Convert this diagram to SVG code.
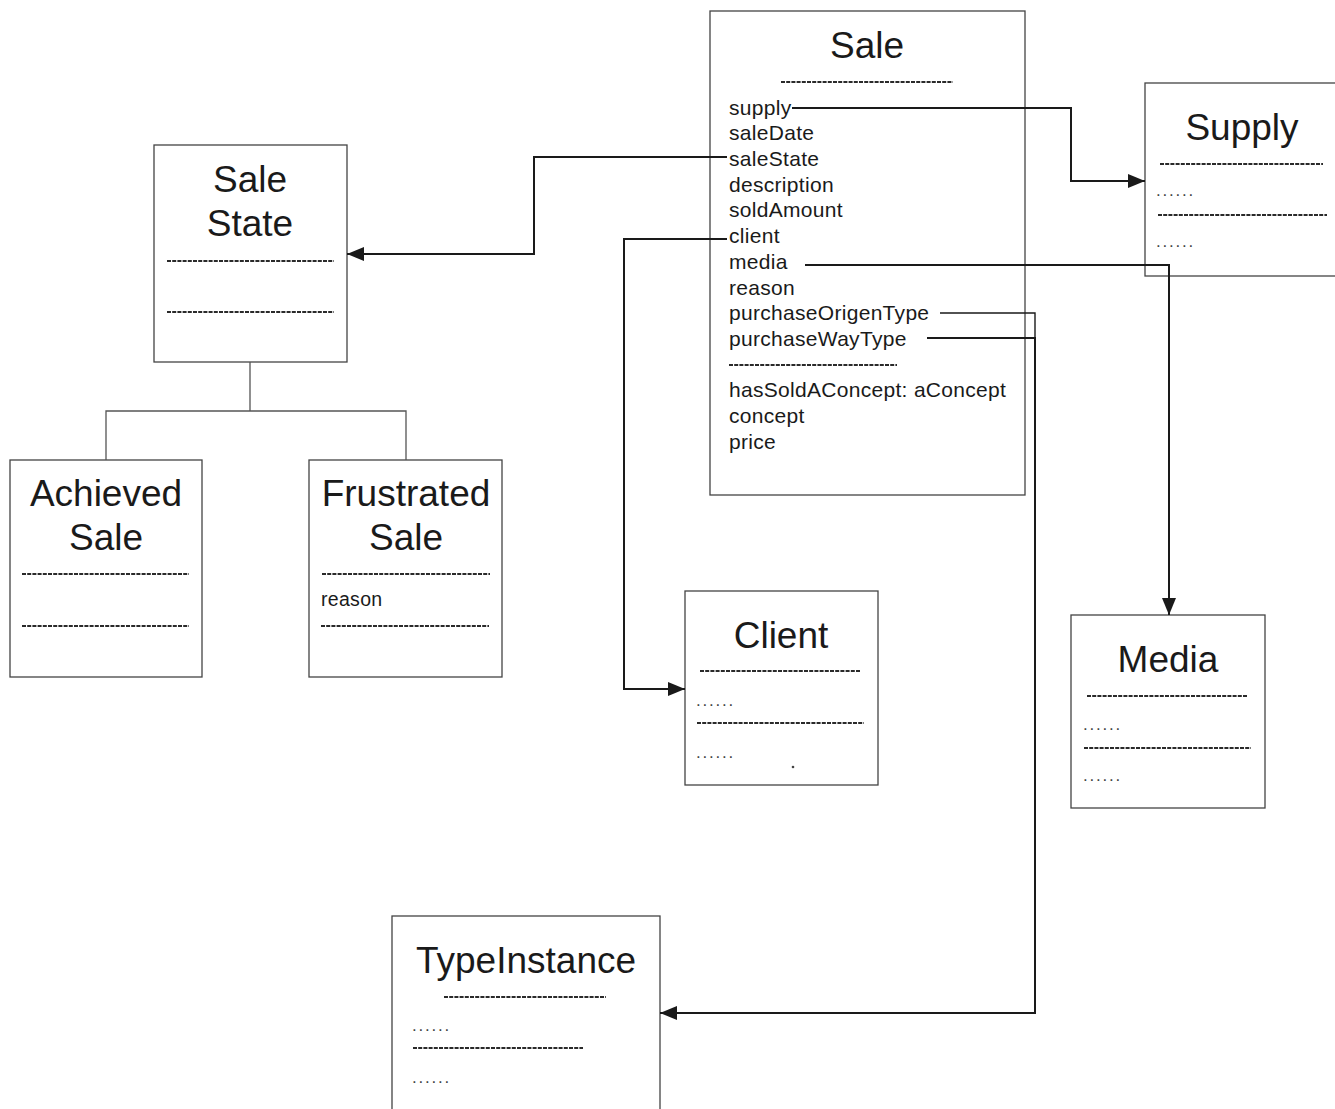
<svg xmlns="http://www.w3.org/2000/svg" width="1335" height="1109" viewBox="0 0 1335 1109">
  <style>
    .box { fill: #ffffff; stroke: #444; stroke-width: 1.3; }
    .title { font-family: "Liberation Sans", Arial, sans-serif; font-size: 37px; fill: #1a1a1a; text-anchor: middle; }
    .attr { font-family: "Liberation Sans", Arial, sans-serif; font-size: 21px; letter-spacing: 0.3px; fill: #1a1a1a; }
    .dots { font-family: "Liberation Sans", Arial, sans-serif; font-size: 17px; fill: #444; letter-spacing: 1.8px; }
    .sep { stroke: #2a2a2a; stroke-width: 1.8; stroke-dasharray: 4 1.2; fill: none; }
    .conn { stroke: #1a1a1a; stroke-width: 2; fill: none; }
    .tree { stroke: #555; stroke-width: 1.3; fill: none; }
  </style>
  <defs>
    <marker id="arrow" viewBox="0 0 17 14" refX="17" refY="7" markerWidth="17" markerHeight="14" markerUnits="userSpaceOnUse" orient="auto">
      <path d="M0,0 L17,7 L0,14 Z" fill="#1a1a1a"/>
    </marker>
  </defs>

  <rect width="1335" height="1109" fill="#ffffff"/>

  <!-- Sale class -->
  <g id="sale">
    <rect class="box" x="710" y="11" width="315" height="484"/>
    <text class="title" x="867" y="58">Sale</text>
    <line class="sep" x1="781" y1="82" x2="953" y2="82"/>
    <text class="attr" x="729" y="115">supply</text>
    <text class="attr" x="729" y="140">saleDate</text>
    <text class="attr" x="729" y="166">saleState</text>
    <text class="attr" x="729" y="192">description</text>
    <text class="attr" x="729" y="217">soldAmount</text>
    <text class="attr" x="729" y="243">client</text>
    <text class="attr" x="729" y="269">media</text>
    <text class="attr" x="729" y="295">reason</text>
    <text class="attr" x="729" y="320">purchaseOrigenType</text>
    <text class="attr" x="729" y="346">purchaseWayType</text>
    <line class="sep" x1="729" y1="365" x2="897" y2="365"/>
    <text class="attr" x="729" y="397">hasSoldAConcept: aConcept</text>
    <text class="attr" x="729" y="423">concept</text>
    <text class="attr" x="729" y="449">price</text>
  </g>

  <!-- Supply class -->
  <g id="supply">
    <rect class="box" x="1145" y="83" width="200" height="193"/>
    <text class="title" x="1242" y="140">Supply</text>
    <line class="sep" x1="1160" y1="164" x2="1323" y2="164"/>
    <text class="dots" x="1156" y="196">......</text>
    <line class="sep" x1="1158" y1="215" x2="1327" y2="215"/>
    <text class="dots" x="1156" y="247">......</text>
  </g>

  <!-- Sale State class -->
  <g id="sale-state">
    <rect class="box" x="154" y="145" width="193" height="217"/>
    <text class="title" x="250" y="192">Sale</text>
    <text class="title" x="250" y="236">State</text>
    <line class="sep" x1="167" y1="261" x2="334" y2="261"/>
    <line class="sep" x1="167" y1="312" x2="334" y2="312"/>
  </g>

  <!-- Achieved Sale class -->
  <g id="achieved-sale">
    <rect class="box" x="10" y="460" width="192" height="217"/>
    <text class="title" x="106" y="506">Achieved</text>
    <text class="title" x="106" y="550">Sale</text>
    <line class="sep" x1="22" y1="574" x2="189" y2="574"/>
    <line class="sep" x1="22" y1="626" x2="189" y2="626"/>
  </g>

  <!-- Frustrated Sale class -->
  <g id="frustrated-sale">
    <rect class="box" x="309" y="460" width="193" height="217"/>
    <text class="title" x="406" y="506">Frustrated</text>
    <text class="title" x="406" y="550">Sale</text>
    <line class="sep" x1="322" y1="574" x2="490" y2="574"/>
    <text class="attr" x="321" y="606" style="font-size:19.5px">reason</text>
    <line class="sep" x1="321" y1="626" x2="489" y2="626"/>
  </g>

  <!-- Client class -->
  <g id="client">
    <rect class="box" x="685" y="591" width="193" height="194"/>
    <text class="title" x="781" y="648">Client</text>
    <line class="sep" x1="700" y1="671" x2="861" y2="671"/>
    <text class="dots" x="696" y="706">......</text>
    <line class="sep" x1="697" y1="723" x2="864" y2="723"/>
    <text class="dots" x="696" y="758">......</text>
    <circle cx="793" cy="767" r="1.3" fill="#444"/>
  </g>

  <!-- Media class -->
  <g id="media">
    <rect class="box" x="1071" y="615" width="194" height="193"/>
    <text class="title" x="1168" y="672">Media</text>
    <line class="sep" x1="1087" y1="696" x2="1248" y2="696"/>
    <text class="dots" x="1083" y="730">......</text>
    <line class="sep" x1="1084" y1="748" x2="1251" y2="748"/>
    <text class="dots" x="1083" y="781">......</text>
  </g>

  <!-- TypeInstance class -->
  <g id="type-instance">
    <rect class="box" x="392" y="916" width="268" height="200"/>
    <text class="title" x="526" y="973">TypeInstance</text>
    <line class="sep" x1="444" y1="997" x2="606" y2="997"/>
    <text class="dots" x="412" y="1031">......</text>
    <line class="sep" x1="413" y1="1048" x2="583" y2="1048"/>
    <text class="dots" x="412" y="1083">......</text>
  </g>

  <!-- Connectors -->
  <g id="connectors">
    <!-- inheritance tree -->
    <path class="tree" d="M250,362 V411 M106,460 V411 H406 V460"/>
    <!-- supply -> Supply -->
    <path class="conn" d="M792,108 H1071 V181 H1145" marker-end="url(#arrow)"/>
    <!-- saleState -> Sale State -->
    <path class="conn" d="M727,157 H534 V254 H347" marker-end="url(#arrow)"/>
    <!-- client -> Client -->
    <path class="conn" d="M727,239 H624 V689 H685" marker-end="url(#arrow)"/>
    <!-- media -> Media -->
    <path class="conn" d="M805,265 H1169 V615" marker-end="url(#arrow)"/>
    <!-- purchaseOrigenType / purchaseWayType -> TypeInstance -->
    <path class="conn" d="M940,313 H1035 V338" style="stroke-width:1.4"/>
    <path class="conn" d="M927,338 H1035 V1013 H660" marker-end="url(#arrow)"/>
  </g>
</svg>
